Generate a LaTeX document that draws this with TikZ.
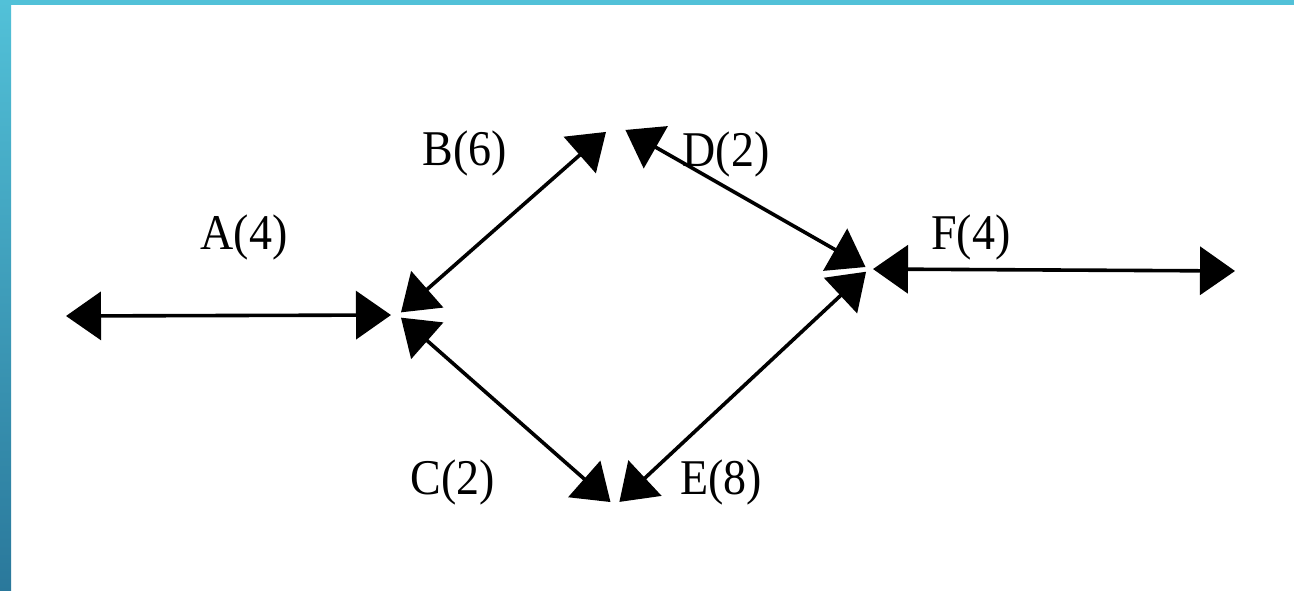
\documentclass[tikz,border=0pt]{standalone}
\usepackage{fontspec}
\setmainfont{Liberation Serif}
\usetikzlibrary{arrows.meta}
\definecolor{bartop}{HTML}{52C1D8}
\definecolor{barbot}{HTML}{2A789B}
\tikzset{
  edge/.style={line width=3.6pt, black,
    {Triangle[length=35pt,width=48pt]}-{Triangle[length=35pt,width=48pt]}},
  lbl/.style={inner sep=0pt, font=\fontsize{50}{50}\selectfont}
}
\begin{document}
\begin{tikzpicture}[x=1pt,y=-1pt]
\useasboundingbox (0,0) rectangle (1294,591);
\fill[white] (0,0) rectangle (1294,591);
% frame bars
\shade[top color=bartop, bottom color=barbot] (0,0) rectangle (11,591);
\fill[bartop] (0,0) rectangle (1294,5);
% event points
\coordinate (L) at (66,316);
\coordinate (N1) at (398,315);
\coordinate (T) at (615,124);
\coordinate (R) at (869,269);
\coordinate (Bt) at (615,506);
\coordinate (Re) at (1235,271);
% activities
\draw[edge, shorten >=7pt] (L) -- (N1);
\draw[edge, shorten <=4pt, shorten >=12pt] (N1) -- (T);
\draw[edge, shorten <=12pt, shorten >=4pt] (T) -- (R);
\draw[edge, shorten <=4pt, shorten >=6pt] (N1) -- (Bt);
\draw[edge, shorten <=6pt, shorten >=4pt] (Bt) -- (R);
\draw[edge, shorten <=4pt] (R) -- (Re);
% labels
\node[lbl] (la) at (244,237) {\scalebox{0.92}[1]{A(4)}};
\node[lbl] (lb) at (465,153) {\scalebox{0.92}[1]{B(6)}};
\node[lbl] (ld) at (726,154) {\scalebox{0.92}[1]{D(2)}};
\node[lbl] (lf) at (971,237) {\scalebox{0.92}[1]{F(4)}};
\node[lbl] (lc) at (453,482) {\scalebox{0.92}[1]{C(2)}};
\node[lbl] (le) at (721,482) {\scalebox{0.92}[1]{E(8)}};
\end{tikzpicture}
\end{document}
